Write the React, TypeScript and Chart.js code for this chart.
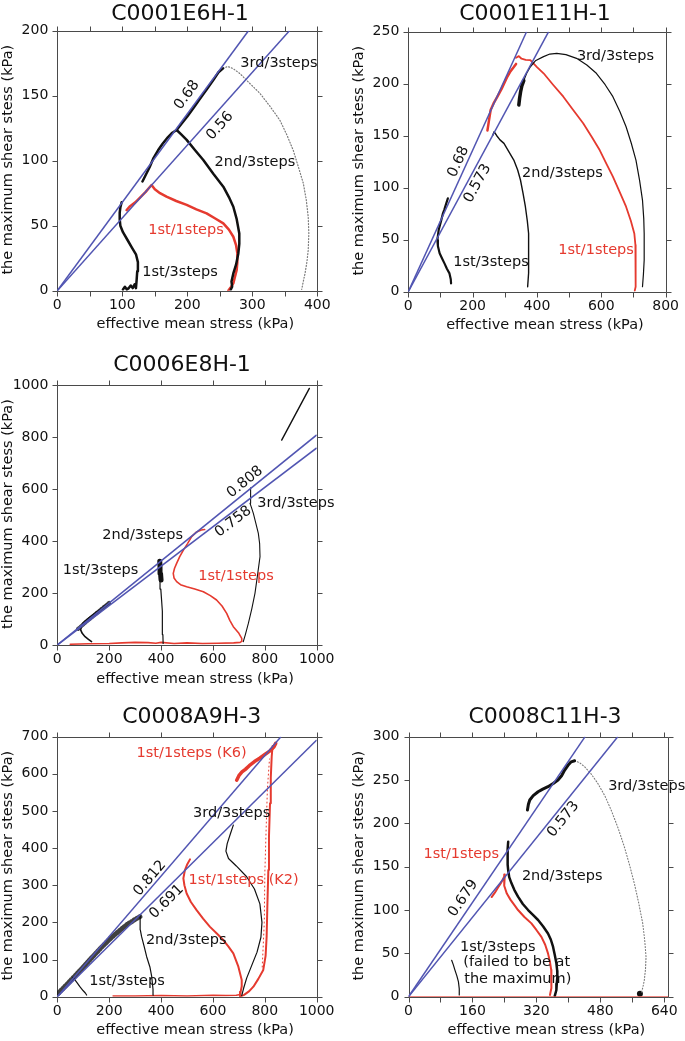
import React, { useEffect, useRef } from 'react';
import { Chart, registerables } from 'chart.js';

Chart.register(...registerables);

type Pt = [number, number];

const FONT = "'DejaVu Sans', 'Liberation Sans', sans-serif";
const RED = '#e53a2f';
const BLUE = '#5155b2';
const BLACK = '#111111';
const GRAY = '#7a7a7a';
const FRAME = '#4a4a4a';

// ---------------- Panel 1: C0001E6H-1 ----------------
const c1Slopes = [0.68, 0.56];
const c1First3: Pt[] = [[101, 1], [104, 3], [107, 1], [110, 2], [113, 4], [116, 2], [119, 5], [121, 2], [122, 8], [123, 15], [124, 22], [121, 28], [115, 33], [108, 39], [101, 45], [97, 50], [96, 55], [96, 60], [97, 64], [99, 68]];
const c1Second3: Pt[] = [[131, 84], [136, 89], [142, 95], [148, 102], [155, 108], [162, 113], [170, 118], [177, 121.5], [183.6, 123.6], [191, 120], [199, 116], [212, 108], [224.6, 100.5], [240, 90], [255.4, 80], [264, 72], [270.8, 64.6], [276, 55], [280, 44], [280, 36], [278.5, 28.7], [275, 20], [270.8, 13.3], [268, 7], [269, 3], [267, 1]];
const c1Third3Load: Pt[] = [[183.6, 123.6], [192, 129], [200, 134], [210, 141], [220, 148], [230, 155], [240, 162], [248, 168], [255, 171]];
const c1Third3Shear: Pt[] = [[255, 171], [262, 172.5], [270, 171], [281, 167], [295, 160], [311.8, 151.8], [327, 142], [342.6, 131], [353, 120], [363, 108], [371, 95], [378.5, 82.6], [383, 70], [386, 57], [387, 44], [386, 31], [384, 22], [381, 13], [378, 6], [376, 1]];
const c1First1: Pt[] = [[106.7, 62], [112, 65], [120, 68], [128, 72], [136, 76], [141, 79], [145, 81.3], [150, 78], [158, 75], [168, 72.3], [183, 69], [199, 66], [214, 62.5], [229.7, 59.5], [243, 55.5], [255.4, 51.8], [264, 47], [270.8, 41.5], [275, 35], [277, 28.7], [277, 22], [276, 16], [273, 10], [270.8, 5.6], [266, 2], [263, 0]];

// ---------------- Panel 2: C0001E11H-1 ----------------
const c2Slopes = [0.68, 0.573];
const c2First3: Pt[] = [[123, 89.7], [118, 85], [112, 79], [107.7, 75.3], [101, 67], [94.4, 59.3], [90.3, 49.7], [92, 44], [97.4, 36.9], [105, 32], [112.8, 27], [120, 22], [128, 17.6], [132, 12], [133, 8]];
const c2Second3: Pt[] = [[262, 150], [266.7, 153.8], [275, 150], [285, 146], [297.4, 142.6], [312, 135], [328, 126.6], [340, 117], [348.7, 107.4], [357, 94], [364, 81.7], [370, 68], [374, 56], [375, 43], [374, 30.4], [373, 18], [371, 4.8]];
const c2Third3Load: Pt[] = [[343.6, 179.5], [346, 186], [349, 192], [353, 198], [359, 203]];
const c2Third3: Pt[] = [[359, 203], [368, 210], [379.5, 216.3], [395, 222], [420.5, 226], [440, 228.5], [461.5, 229.2], [490, 228], [523, 224.4], [555, 218], [584.6, 210], [612, 199], [636, 187.5], [658, 173], [677, 158.6], [693, 143], [707.7, 126.6], [719, 107], [728, 88.1], [732, 70], [733.3, 56], [733.3, 43], [733.3, 30.4], [731, 17], [728, 4.8]];
const c2First1Load: Pt[] = [[246, 155], [250, 163], [256, 174.7], [265, 181], [277, 187.5], [290, 195], [307.7, 206.7], [318, 212], [328, 216], [335, 219]];
const c2First1: Pt[] = [[335, 225], [343.6, 226.5], [352, 224], [365, 223], [379.5, 222.7], [400, 216], [420.5, 210], [450, 199], [482, 187.5], [512, 175], [543.6, 161.9], [570, 149], [594.9, 136.2], [616, 123], [636, 110.6], [657, 96], [677, 81.7], [692, 68], [702.6, 56], [706, 45], [707.7, 33.7], [707, 20], [705.6, 4.8], [704, 1]];

// ---------------- Panel 3: C0006E8H-1 ----------------
const c3Slopes = [0.808, 0.758];
const c3First3: Pt[] = [[132, 13], [120, 22], [107, 32], [96, 45], [90, 58], [93, 72], [98, 83], [108, 93], [119.5, 102.6], [132, 112], [145, 122], [158, 131], [170, 140], [183, 150], [196.6, 160]];
const c3First3Band: Pt[] = [[80, 62], [110, 88], [140, 113], [170, 138], [200, 162]];
const c3Second3: Pt[] = [[408, 6], [407, 40], [406, 83], [404, 130], [402, 173], [399, 215], [396, 250], [394, 285], [393, 314], [395, 325]];
const c3Second3Top: Pt[] = [[400, 250], [398, 275], [396, 300], [395, 322]];
const c3First1: Pt[] = [[50, 3], [120, 5], [200, 6], [250, 8], [300, 10], [350, 9], [380, 7], [400, 10], [450, 6], [500, 8], [560, 6], [620, 7], [680, 8], [705, 10], [712, 15], [711, 25.6], [700, 45], [678.6, 70.5], [665, 95], [653, 121.8], [635, 150], [614, 173], [590, 190], [563, 205], [530, 215], [498.7, 224], [475, 232], [460, 243.6], [450, 258], [447, 275.6], [452, 295], [460, 314], [472, 340], [486, 365], [502, 390], [518, 416.6], [537, 435], [555, 442], [568, 444]];
const c3Third3: Pt[] = [[717, 12.8], [725, 40], [736.5, 83], [750, 140], [762, 198.7], [772, 270], [781.5, 339.7], [780, 390], [775, 429.5], [765, 470], [755.8, 506], [748, 530], [743, 545], [744, 570], [745.6, 596], [746, 605]];
const c3TopRight: Pt[] = [[865, 788], [971.7, 987]];

// ---------------- Panel 4: C0008A9H-3 ----------------
const c4Slopes = [0.812, 0.691];
const c4Band: Pt[] = [[5, 10], [30, 28], [60, 50], [90, 72], [120, 95], [150, 118], [180, 140], [210, 160], [240, 178], [270, 195], [300, 208], [325, 218]];
const c4First3: Pt[] = [[113, 4.5], [108, 10], [100, 16], [93, 22], [87, 27], [78, 36], [68, 45], [60, 52]];
const c4Second3: Pt[] = [[370, 4.5], [369, 20], [366, 40], [364, 54], [357, 80], [344.5, 107.7], [335, 135], [325, 161.5], [320, 180], [319, 197.4], [319, 210], [320, 220]];
const c4Third3: Pt[] = [[678.6, 462], [668, 440], [655, 412], [650, 392], [660, 372], [690, 352], [730, 323], [760, 290], [781, 250], [789, 200], [785, 160], [770, 120], [750, 85], [730, 50], [718, 22], [711, 3]];
const c4K2: Pt[] = [[511.5, 369.7], [500, 355], [492, 341], [486, 318.6], [490, 300], [498.7, 278], [515, 255], [537, 233], [562, 210], [588.7, 188], [615, 170], [640, 152.6], [660, 135], [678.6, 116.7], [698, 80.8], [711, 44.9], [711, 28], [707, 13.5], [704.4, 1.8]];
const c4RedBase: Pt[] = [[215, 2], [300, 2], [400, 3], [500, 2], [600, 4], [650, 3], [690, 4], [705, 6]];
const c4K6: Pt[] = [[705, 0], [720, 5], [740, 15], [756, 27], [775, 48], [794, 72], [803, 110], [807, 161.5], [810, 250], [813.6, 341], [816, 430], [820, 520.5], [823, 590], [826.5, 646], [830, 675]];
const c4K6Scatter: Pt[] = [[790, 80], [798, 200], [800, 330], [805, 450], [810, 560], [818, 640]];
const c4K6Top: Pt[] = [[691.5, 583], [700, 595], [712, 605], [725, 612], [740, 622], [760, 633], [780, 642], [800, 652], [820, 662], [835, 672], [842, 682]];

// ---------------- Panel 5: C0008C11H-3 ----------------
const c5Slopes = [0.679, 0.573];
const c5First3: Pt[] = [[108, 42], [112, 37], [116, 31], [121, 24], [125, 17], [127, 9], [127, 2]];
const c5Second3: Pt[] = [[249.4, 178.8], [248, 170], [247.7, 161.5], [248.5, 152], [249.4, 146], [252, 138], [257.7, 130.8], [265, 123], [274, 115.4], [286, 107], [299.2, 100], [312, 94], [324.2, 88.5], [337, 81], [349, 73], [356, 66], [361.6, 57.7], [366, 48], [370, 38.5], [372, 30], [372.4, 23], [371, 15], [370, 7.7], [366, 1]];
const c5Third3Load: Pt[] = [[297.6, 215.4], [300, 222], [303.4, 227], [312, 232], [324.2, 236.5], [336, 239.5], [349, 242.3], [362, 246], [374, 250], [383, 255], [390.7, 261.5], [399, 267], [407, 271], [415.6, 272.3]];
const c5Third3Shear: Pt[] = [[415.6, 272.3], [428, 270], [440.5, 265.4], [457, 257], [473.8, 246], [491, 232], [507, 215.4], [524, 195], [540, 173], [553, 152], [565, 130.8], [576, 108], [586, 84.6], [591, 65], [594.3, 46], [593, 32], [590, 19.2], [586, 10], [581.8, 3.8]];
const c5EndDot: Pt[] = [[579, 3.5]];
const c5First1: Pt[] = [[208, 115], [216, 120], [224, 126], [231, 131], [237, 136], [241, 141], [239, 134], [240, 128], [246, 119], [255, 112], [266, 105], [274, 100], [290, 92], [307.5, 84.6], [320, 77], [332.5, 69], [342, 60], [349, 50], [354, 40], [357, 31], [358, 20], [357, 10], [354, 2]];
const c5RedBase: Pt[] = [[0, 0], [650, 0]];

// ---------------- definitions ----------------
interface Series { pts: Pt[]; color: string; width: number; dash?: number[]; radius?: number }
interface Label { text: string; x: number; y: number; color?: string; slope?: number; align?: CanvasTextAlign }
interface PanelDef {
  box: { x: number; y: number; w: number; h: number };
  plot: { L: number; T: number; R: number; B: number };
  xMax: number; yMax: number;
  xStep: number; xLabelStep: number; yStep: number; yLabelStep: number;
  title: string; titleX: number; titleY: number;
  slopes: number[];
  series: Series[];
  labels: Label[];
}

const S = (pts: Pt[], color: string, width: number, dash?: number[], radius?: number): Series => ({ pts, color, width, dash, radius });

const panels: PanelDef[] = [
  {
    box: { x: 0, y: 0, w: 342, h: 340 },
    plot: { L: 57.3, T: 30.7, R: 317.3, B: 290.7 },
    xMax: 400, yMax: 200, xStep: 50, xLabelStep: 100, yStep: 50, yLabelStep: 50,
    title: 'C0001E6H-1', titleX: 180, titleY: 13,
    slopes: c1Slopes,
    series: [
      S(c1First3, BLACK, 2.5), S(c1Second3, BLACK, 2.5), S(c1Third3Load, BLACK, 2.5),
      S(c1Third3Shear, GRAY, 1.2, [1, 2]), S(c1First1, RED, 2.5),
    ],
    labels: [
      { text: '3rd/3steps', x: 341, y: 175 }, { text: '2nd/3steps', x: 304, y: 99 },
      { text: '1st/1steps', x: 198, y: 46.7, color: RED }, { text: '1st/3steps', x: 188.8, y: 14.4 },
      { text: '0.68', x: 199.5, y: 150.5, slope: 0.68 }, { text: '0.56', x: 250.3, y: 126.7, slope: 0.56 },
    ],
  },
  {
    box: { x: 342, y: 0, w: 343, h: 340 },
    plot: { L: 408.3, T: 31.7, R: 668.3, B: 291.7 },
    xMax: 800, yMax: 250, xStep: 100, xLabelStep: 200, yStep: 50, yLabelStep: 50,
    title: 'C0001E11H-1', titleX: 535, titleY: 13,
    slopes: c2Slopes,
    series: [
      S(c2First3, BLACK, 2.2), S(c2Second3, BLACK, 1.4), S(c2Third3Load, BLACK, 3.5), S(c2Third3, BLACK, 1.2),
      S(c2First1Load, RED, 2.5), S(c2First1, RED, 1.8),
    ],
    labels: [
      { text: '3rd/3steps', x: 644, y: 226.6 }, { text: '2nd/3steps', x: 479, y: 114.1 },
      { text: '1st/1steps', x: 583.7, y: 39.9, color: RED }, { text: '1st/3steps', x: 257, y: 28.8 },
      { text: '0.68', x: 156, y: 125, slope: 0.68 }, { text: '0.573', x: 215.4, y: 104.2, slope: 0.573 },
    ],
  },
  {
    box: { x: 0, y: 340, w: 342, h: 350 },
    plot: { L: 57.3, T: 385, R: 316.7, B: 645 },
    xMax: 1000, yMax: 1000, xStep: 200, xLabelStep: 200, yStep: 200, yLabelStep: 200,
    title: 'C0006E8H-1', titleX: 182, titleY: 364,
    slopes: c3Slopes,
    series: [
      S(c3First3, BLACK, 1.6), S(c3First3Band, 'rgba(0,0,0,0.75)', 4, [1.5, 1.5]), S(c3Second3, BLACK, 1.2),
      S(c3Second3Top, BLACK, 5), S(c3First1, RED, 1.6), S(c3Third3, BLACK, 1.1), S(c3TopRight, BLACK, 1.4),
    ],
    labels: [
      { text: '0.808', x: 723.6, y: 627, slope: 0.808 }, { text: '0.758', x: 678.5, y: 474, slope: 0.758 },
      { text: '3rd/3steps', x: 920, y: 546 }, { text: '2nd/3steps', x: 329, y: 423 },
      { text: '1st/3steps', x: 167, y: 288 }, { text: '1st/1steps', x: 689, y: 265, color: RED },
    ],
  },
  {
    box: { x: 0, y: 690, w: 342, h: 351 },
    plot: { L: 57.3, T: 736.7, R: 316.7, B: 996.7 },
    xMax: 1000, yMax: 700, xStep: 200, xLabelStep: 200, yStep: 100, yLabelStep: 100,
    title: 'C0008A9H-3', titleX: 191.7, titleY: 716,
    slopes: c4Slopes,
    series: [
      S(c4Band, 'rgba(0,0,0,0.75)', 5, [1, 2]), S(c4First3, BLACK, 1.2), S(c4Second3, BLACK, 1.2),
      S(c4Third3, BLACK, 1.2), S(c4K2, RED, 2), S(c4RedBase, RED, 1.5), S(c4K6, RED, 2),
      S(c4K6Scatter, RED, 1, [1, 3]), S(c4K6Top, RED, 3.5),
    ],
    labels: [
      { text: '1st/1steps (K6)', x: 518, y: 655, color: RED }, { text: '3rd/3steps', x: 672, y: 493 },
      { text: '1st/1steps (K2)', x: 718.5, y: 313, color: RED },
      { text: '0.812', x: 357, y: 318.7, slope: 0.812 }, { text: '0.691', x: 421.7, y: 255.5, slope: 0.691 },
      { text: '2nd/3steps', x: 497, y: 151.3 }, { text: '1st/3steps', x: 268.7, y: 40.4 },
    ],
  },
  {
    box: { x: 342, y: 690, w: 343, h: 351 },
    plot: { L: 408.5, T: 736.7, R: 668.3, B: 996.7 },
    xMax: 650, yMax: 300, xStep: 80, xLabelStep: 160, yStep: 50, yLabelStep: 50,
    title: 'C0008C11H-3', titleX: 545, titleY: 716,
    slopes: c5Slopes,
    series: [
      S(c5RedBase, RED, 1), S(c5First3, BLACK, 1.2), S(c5Second3, BLACK, 2.5), S(c5Third3Load, BLACK, 3),
      S(c5Third3Shear, GRAY, 1.1, [1, 2]), S(c5EndDot, BLACK, 0, undefined, 3), S(c5First1, RED, 2),
    ],
    labels: [
      { text: '3rd/3steps', x: 596, y: 242.3 }, { text: '0.573', x: 387.3, y: 204.7, slope: 0.573 },
      { text: '1st/1steps', x: 132, y: 164, color: RED }, { text: '2nd/3steps', x: 384.6, y: 138.5 },
      { text: '0.679', x: 137, y: 113.5, slope: 0.679 },
      { text: '1st/3steps', x: 128.8, y: 57, align: 'left' },
      { text: '(failed to be at', x: 137, y: 39.8, align: 'left' },
      { text: 'the maximum)', x: 139.4, y: 20.4, align: 'left' },
    ],
  },
];

const X_TITLE = 'effective mean stress (kPa)';
const Y_TITLE = 'the maximum shear stess (kPa)';

function isMultiple(v: number, step: number) {
  const r = Math.abs(v / step - Math.round(v / step));
  return r < 1e-6;
}

function buildConfig(def: PanelDef): any {
  const { box, plot } = def;
  const datasets: any[] = [];
  def.slopes.forEach((s) => {
    const xe = Math.min(def.xMax, def.yMax / s);
    datasets.push({
      data: [{ x: 0, y: 0 }, { x: xe, y: s * xe }],
      showLine: true, borderColor: BLUE, borderWidth: 1.5, pointRadius: 0,
    });
  });
  def.series.forEach((sr) => {
    datasets.push({
      data: sr.pts.map(([x, y]) => ({ x, y })),
      showLine: sr.width > 0,
      borderColor: sr.color,
      backgroundColor: sr.color,
      borderWidth: sr.width,
      borderDash: sr.dash ?? [],
      pointRadius: sr.radius ?? 0,
      pointBorderWidth: 0,
      borderJoinStyle: 'round',
      borderCapStyle: 'round',
    });
  });

  const panelPlugin = {
    id: 'panelDecor',
    beforeDatasetsDraw(chart: any) {
      const ctx: CanvasRenderingContext2D = chart.ctx;
      const { left, right, top, bottom } = chart.chartArea;
      const xs = chart.scales.x;
      const ys = chart.scales.y;
      const TL = 5;
      const r = (v: number) => Math.round(v) + 0.5;
      ctx.save();
      ctx.strokeStyle = FRAME;
      ctx.lineWidth = 1;
      ctx.beginPath();
      ctx.rect(r(left), r(top), Math.round(right) - Math.round(left), Math.round(bottom) - Math.round(top));
      xs.ticks.forEach((t: any) => {
        if (t.value < xs.min - 1e-9 || t.value > xs.max + 1e-9) return;
        const px = r(xs.getPixelForValue(t.value));
        ctx.moveTo(px, r(bottom)); ctx.lineTo(px, r(bottom) + TL);
        ctx.moveTo(px, r(top)); ctx.lineTo(px, r(top) - TL);
      });
      ys.ticks.forEach((t: any) => {
        if (t.value < ys.min - 1e-9 || t.value > ys.max + 1e-9) return;
        const py = r(ys.getPixelForValue(t.value));
        ctx.moveTo(r(left), py); ctx.lineTo(r(left) - TL, py);
        ctx.moveTo(r(right), py); ctx.lineTo(r(right) + TL, py);
      });
      ctx.stroke();
      ctx.restore();
    },
    afterDatasetsDraw(chart: any) {
      const ctx: CanvasRenderingContext2D = chart.ctx;
      const xs = chart.scales.x;
      const ys = chart.scales.y;
      const { left, right, top, bottom } = chart.chartArea;
      ctx.save();
      ctx.textBaseline = 'middle';
      ctx.font = `14.5px ${FONT}`;
      def.labels.forEach((lb) => {
        const px = xs.getPixelForValue(lb.x);
        const py = ys.getPixelForValue(lb.y);
        ctx.save();
        ctx.fillStyle = lb.color ?? BLACK;
        ctx.translate(px, py);
        if (lb.slope !== undefined) {
          const p0x = xs.getPixelForValue(0), p0y = ys.getPixelForValue(0);
          const p1x = xs.getPixelForValue(100), p1y = ys.getPixelForValue(100 * lb.slope);
          ctx.rotate(Math.atan2(p1y - p0y, p1x - p0x));
        }
        ctx.textAlign = lb.align ?? 'center';
        ctx.fillText(lb.text, 0, 0);
        ctx.restore();
      });
      ctx.fillStyle = BLACK;
      ctx.textAlign = 'center';
      ctx.font = `22px ${FONT}`;
      ctx.fillText(def.title, def.titleX - box.x, def.titleY - box.y + 1);
      ctx.font = `14.5px ${FONT}`;
      ctx.fillText(X_TITLE, (left + right) / 2 + 8, bottom + 34);
      ctx.save();
      ctx.translate(left - 49.5, (top + bottom) / 2 - 1);
      ctx.rotate(-Math.PI / 2);
      ctx.fillText(Y_TITLE, 0, 0);
      ctx.restore();
      ctx.restore();
    },
  };

  const tickFont = { family: FONT, size: 14 };
  return {
    type: 'scatter',
    data: { datasets },
    options: {
      animation: false,
      responsive: false,
      devicePixelRatio: 1,
      events: [],
      layout: { padding: { left: 0, top: plot.T - box.y, right: box.x + box.w - plot.R, bottom: 0 } },
      plugins: { legend: { display: false }, tooltip: { enabled: false }, title: { display: false } },
      scales: {
        x: {
          type: 'linear', min: 0, max: def.xMax,
          grid: { display: false, drawTicks: false },
          border: { display: false },
          ticks: {
            stepSize: def.xStep, autoSkip: false, maxRotation: 0, minRotation: 0, includeBounds: false,
            padding: 6, font: tickFont, color: BLACK,
            callback: (v: number) => (isMultiple(v, def.xLabelStep) ? String(v) : ''),
          },
          afterFit: (s: any) => { s.height = box.y + box.h - plot.B; },
        },
        y: {
          type: 'linear', min: 0, max: def.yMax,
          grid: { display: false, drawTicks: false },
          border: { display: false },
          ticks: {
            stepSize: def.yStep, autoSkip: false, includeBounds: false,
            padding: 9, font: tickFont, color: BLACK,
            callback: (v: number) => (isMultiple(v, def.yLabelStep) ? String(v) : ''),
          },
          afterFit: (s: any) => { s.width = plot.L - box.x; },
        },
      },
    },
    plugins: [panelPlugin],
  };
}

function Panel({ def }: { def: PanelDef }) {
  const ref = useRef<HTMLCanvasElement>(null);
  useEffect(() => {
    if (!ref.current) return;
    const chart = new Chart(ref.current, buildConfig(def));
    return () => chart.destroy();
  }, [def]);
  return (
    <canvas
      ref={ref}
      width={def.box.w}
      height={def.box.h}
      style={{ position: 'absolute', left: def.box.x, top: def.box.y, width: def.box.w, height: def.box.h }}
    />
  );
}

export default function App() {
  return (
    <div style={{ position: 'absolute', left: 0, top: 0, width: 685, height: 1041, background: '#fff', overflow: 'hidden' }}>
      {panels.map((p, i) => (
        <Panel key={i} def={p} />
      ))}
    </div>
  );
}
